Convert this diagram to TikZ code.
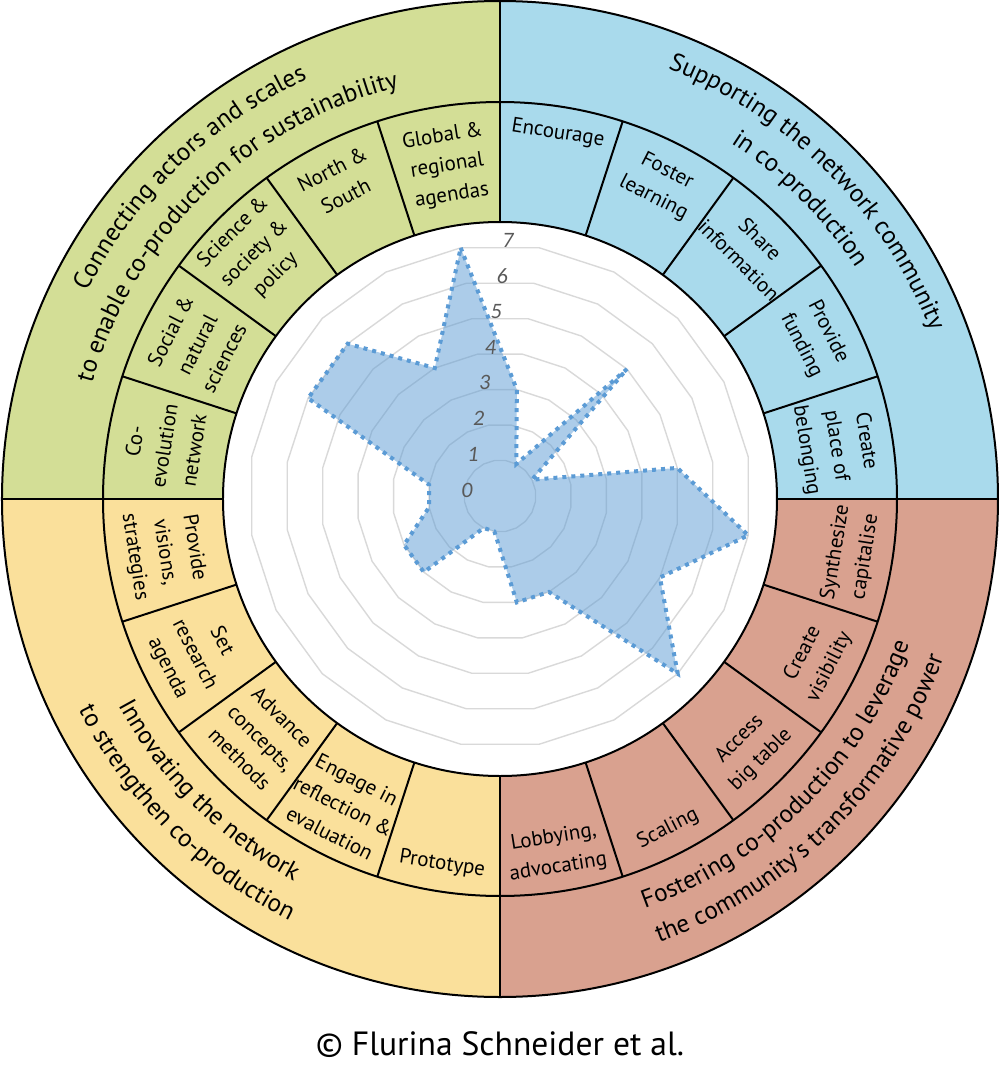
\documentclass[tikz,border=0pt]{standalone}
\usepackage{fontspec}
\setmainfont{PT Sans}
\newfontfamily\numfont{Carlito}
\usetikzlibrary{decorations.text}
\definecolor{qgreen}{HTML}{D3DE96}
\definecolor{qblue}{HTML}{A9DAEC}
\definecolor{qred}{HTML}{D9A18F}
\definecolor{qyellow}{HTML}{FAE09B}
\definecolor{radarblue}{HTML}{5B9BD5}
\definecolor{gridgray}{HTML}{D9D9D9}
\definecolor{numgray}{HTML}{595959}
\newcommand\outerfont{\fontsize{12.6pt}{15pt}\selectfont}
\tikzset{
  ring/.style={line width=1pt, draw=black},
  gridline/.style={line width=0.7pt, draw=gridgray},
  datapoly/.style={draw=radarblue, line width=2pt, dash pattern=on 2pt off 2.5pt,
     fill=radarblue, fill opacity=0.5, line join=miter},
  seg/.style={align=center, inner sep=0pt, font=\fontsize{10.5pt}{15pt}\selectfont},
  num/.style={inner sep=0pt, text=numgray, font=\numfont\itshape\fontsize{11pt}{11pt}\selectfont},
  arctext/.style={decorate, decoration={text along path, text align=center, text={#1}}}
}
\begin{document}
\begin{tikzpicture}[x=0.5pt,y=0.5pt]
\useasboundingbox (-500,-568) rectangle (500,499);
\fill[white] (-500,-568) rectangle (500,499);
% quadrant fills
\foreach \a/\c in {90/qgreen, 0/qblue, 270/qred, 180/qyellow}{
  \fill[\c] (\a:498) arc[start angle=\a, end angle=\a+90, radius=498]
     -- (\a+90:277) arc[start angle=\a+90, end angle=\a, radius=277] -- cycle;
}
% ring lines
\draw[ring] (0,0) circle[radius=498];
\draw[ring] (0,0) circle[radius=397];
\draw[ring] (0,0) circle[radius=277];
\foreach \a in {0,90,180,270}{ \draw[ring] (\a:277) -- (\a:498); }
\foreach \a in {18,36,54,72,108,126,144,162,198,216,234,252,288,306,324,342}{
  \draw[ring] (\a:277) -- (\a:397); }
% radar
\begin{scope}[shift={(0,3)}]
  \foreach \v in {1,...,7}{
    \draw[gridline] (9:\v*35.9) \foreach \k in {1,...,19}{ -- (9+18*\k:\v*35.9) } -- cycle;
  }
  \coordinate (rc) at (0,0);
  \draw[datapoly] (99:251.3) -- (81:107.7) -- (63:35.9) -- (45:179.5) -- (27:35.9)
    -- (9:179.5) -- (-9:251.3) -- (-27:179.5) -- (-45:251.3) -- (-63:107.7)
    -- (-81:107.7) -- (-99:35.9) -- (-117:35.9) -- (-135:107.7) -- (-153:107.7)
    -- (-171:71.8) -- (-189:71.8) -- (-207:215.4) -- (-225:215.4) -- (-243:143.6) -- cycle;
\end{scope}
\foreach \v in {0,...,7}{
  \node[num] (n\v) at (-33+5.86*\v, 9+35.7*\v) {\v};
}
% segment labels: blue
\node[seg, rotate=-9]  (enc) at (81:370) {Encourage};
\node[seg, rotate=-27] (fos) at (63:353) {Foster\\learning};
\node[seg, rotate=-45] (sha) at (45:353) {Share\\information};
\node[seg, rotate=-63] (pfu) at (27:353) {Provide\\funding};
\node[seg, rotate=-81] (cpl) at (9:340) {Create\\place of\\belonging};
% green
\node[seg, rotate=9]  (glo) at (99:337) {Global \&\\regional\\agendas};
\node[seg, rotate=27] (nor) at (117:355) {North \&\\South};
\node[seg, rotate=45] (sci) at (135:347) {Science \&\\society \&\\policy};
\node[seg, rotate=63] (soc) at (153:340) {Social \&\\natural\\sciences};
\node[seg, rotate=81] (coe) at (171:340) {Co-\\evolution\\network};
% yellow
\node[seg, rotate=-81] (vis) at (189:340) {Provide\\visions,\\strategies};
\node[seg, rotate=-63] (sra) at (207:343) {Set\\research\\agenda};
\node[seg, rotate=-45] (adv) at (225:338) {Advance\\concepts,\\methods};
\node[seg, rotate=-27] (eng) at (243:345) {Engage in\\reflection \&\\evaluation};
\node[seg, rotate=-9]  (prt) at (261:370) {Prototype};
% red
\node[seg, rotate=81] (syn) at (-9:355) {Synthesize\\capitalise};
\node[seg, rotate=63] (vsb) at (-27:355) {Create\\visibility};
\node[seg, rotate=45] (acc) at (-45:354) {Access\\big table};
\node[seg, rotate=27] (scl) at (-63:370) {Scaling};
\node[seg, rotate=9]  (lob) at (-81:358) {Lobbying,\\advocating};
% outer ring curved titles
\path[arctext={|\outerfont|Connecting actors and scales}] (174:462) arc[start angle=174, end angle=94, radius=462];
\path[arctext={|\outerfont|to enable co-production for sustainability}] (177:424) arc[start angle=177, end angle=91, radius=424];
\path[arctext={|\outerfont|Supporting the network community}] (85:462) arc[start angle=85, end angle=5, radius=462];
\path[arctext={|\outerfont|in co-production}] (85:424) arc[start angle=85, end angle=5, radius=424];
\path[arctext={|\outerfont|Fostering co-production to leverage}] (-88:434) arc[start angle=-88, end angle=-2, radius=434];
\path[arctext={|\outerfont|the community’s transformative power}] (-88:471) arc[start angle=-88, end angle=-2, radius=471];
\path[arctext={|\outerfont|Innovating the network}] (185:434) arc[start angle=185, end angle=265, radius=434];
\path[arctext={|\outerfont|to strengthen co-production}] (185:471) arc[start angle=185, end angle=265, radius=471];
% credit
\node[anchor=base, inner sep=0pt, font=\fontsize{16.8pt}{17pt}\selectfont] (credit) at (0,-556) {© Flurina Schneider et al.};
\end{tikzpicture}
\end{document}
